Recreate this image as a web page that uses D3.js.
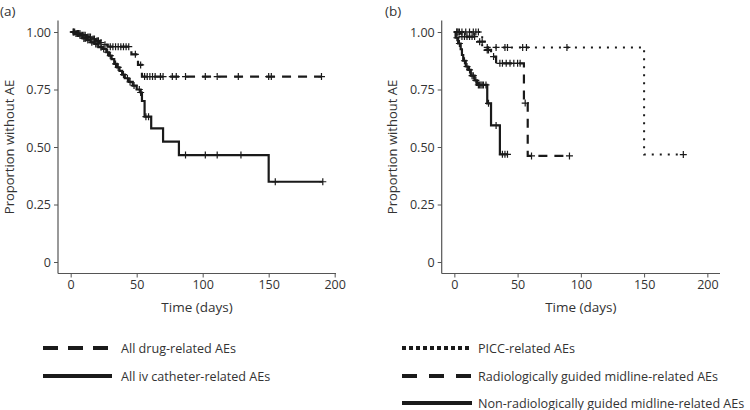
<!DOCTYPE html>
<html>
<head>
<meta charset="utf-8">
<script src="https://cdn.jsdelivr.net/npm/d3@7"></script>
<style>
  html, body { margin: 0; padding: 0; background: #fff; }
  svg { display: block; }
  text { font-family: "Open Sans", "Noto Sans", sans-serif; fill: #333; }
</style>
</head>
<body>
<svg id="chart" width="750" height="410"></svg>
<script>
// ---------- DATA ----------
const xTicks = [0, 50, 100, 150, 200];
const yTicks = [0, 0.25, 0.5, 0.75, 1.0];
const yTickLabels = ["0", "0.25", "0.50", "0.75", "1.00"];
const panelLabels = ["(a)", "(b)"];
const xTitle = "Time (days)";
const yTitle = "Proportion without AE";

// Panel (a): All drug-related AEs (dashed)
const drugEventTimes = [0, 4, 8, 12, 16, 19, 22, 25, 28, 46, 51, 54];
const drugSurvival   = [1.0, 0.993, 0.986, 0.978, 0.970, 0.962, 0.954, 0.945, 0.936, 0.903, 0.857, 0.806];
const drugCensor     = [2, 3, 5, 6, 7, 9, 10, 11, 13, 14, 15, 17, 18, 20, 21, 23, 26, 30, 32, 34, 36, 38, 40, 42, 44, 49, 53, 56, 58, 60, 62, 64, 68, 70, 77, 80, 87, 102, 111, 127, 150, 152, 190];

// Panel (a): All iv catheter-related AEs (solid)
const ivEventTimes = [0, 3, 6, 9, 12, 15, 18, 21, 24, 27, 29, 31, 33, 35, 37, 39, 41, 44, 47, 50, 53, 54, 56, 61, 70, 82, 150];
const ivSurvival   = [1.0, 0.993, 0.986, 0.972, 0.965, 0.955, 0.948, 0.934, 0.926, 0.912, 0.897, 0.882, 0.861, 0.846, 0.831, 0.815, 0.799, 0.783, 0.767, 0.750, 0.737, 0.700, 0.632, 0.581, 0.523, 0.465, 0.349];
const ivCensor     = [2, 4, 5, 7, 8, 10, 11, 13, 16, 19, 20, 23, 25, 28, 30, 34, 36, 40, 43, 45, 48, 52, 53, 57, 59, 87, 102, 111, 129, 155, 191];

// Panel (b): PICC-related AEs (dotted)
const piccEventTimes = [0, 22, 150];
const piccSurvival   = [1.0, 0.933, 0.467];
const piccCensor     = [2, 4, 6, 9, 12, 15, 17, 19, 26, 33, 40, 42, 54, 57, 89, 181];

// Panel (b): Radiologically guided midline-related AEs (dashed)
const radEventTimes = [0, 5, 18, 24, 29, 33, 55, 58];
const radSurvival   = [1.0, 0.980, 0.958, 0.922, 0.893, 0.864, 0.691, 0.461];
const radCensor     = [2, 3, 6, 8, 10, 12, 14, 16, 20, 22, 26, 27, 31, 36, 38, 41, 44, 47, 50, 52, 56, 61, 91];

// Panel (b): Non-radiologically guided midline-related AEs (solid)
const nonRadEventTimes = [0, 1, 3, 5, 6, 7, 9, 11, 13, 16, 18, 26, 29, 36];
const nonRadSurvival   = [1.0, 0.975, 0.950, 0.925, 0.900, 0.875, 0.850, 0.835, 0.810, 0.790, 0.770, 0.690, 0.594, 0.468];
const nonRadCensor     = [2, 4, 8, 10, 12, 14, 15, 17, 19, 20, 21, 22, 23, 25, 27, 33, 38, 40, 42];

const legendA = ["All drug-related AEs", "All iv catheter-related AEs"];
const legendB = ["PICC-related AEs", "Radiologically guided midline-related AEs", "Non-radiologically guided midline-related AEs"];

// ---------- DRAWING ----------
const svg = d3.select("#chart");
const INK = "#1a1a1a";
const AXIS = "#555";

const panels = [
  {
    label: panelLabels[0], labelX: 0,
    xDomain: [-9.6, 201], xRange: [58, 336],
    titleX: 10,
    series: [
      {t: drugEventTimes, s: drugSurvival, c: drugCensor, dash: "9,7", width: 2.2},
      {t: ivEventTimes, s: ivSurvival, c: ivCensor, dash: null, width: 2.2}
    ],
    legend: {x0: 43, x1: 112, tx: 121, ys: [348, 376],
      items: [{text: legendA[0], dash: "15,10", width: 4}, {text: legendA[1], dash: null, width: 4}]}
  },
  {
    label: panelLabels[1], labelX: 385,
    xDomain: [-10, 210], xRange: [441.7, 720],
    titleX: 393,
    series: [
      {t: piccEventTimes, s: piccSurvival, c: piccCensor, dash: "2,6", width: 2},
      {t: radEventTimes, s: radSurvival, c: radCensor, dash: "9,7", width: 2.2},
      {t: nonRadEventTimes, s: nonRadSurvival, c: nonRadCensor, dash: null, width: 2.2}
    ],
    legend: {x0: 402, x1: 472, tx: 478, ys: [348, 376, 403],
      items: [{text: legendB[0], dash: "4,3", width: 4}, {text: legendB[1], dash: "15,12", width: 4}, {text: legendB[2], dash: null, width: 4}]}
  }
];

const y = d3.scaleLinear().domain([-0.05, 1.05]).range([273.5, 20.5]);

function stepValue(times, surv, t) {
  let v = surv[0];
  for (let i = 0; i < times.length; i++) { if (times[i] <= t) v = surv[i]; }
  return v;
}

panels.forEach(p => {
  const x = d3.scaleLinear().domain(p.xDomain).range(p.xRange);
  const g = svg.append("g");

  // axes
  const yAxis = d3.axisLeft(y).tickValues(yTicks).tickFormat((d, i) => yTickLabels[i]).tickSize(4).tickPadding(3);
  const xAxis = d3.axisBottom(x).tickValues(xTicks).tickSize(4).tickPadding(3);
  const ya = g.append("g").attr("transform", `translate(${p.xRange[0]},0)`).call(yAxis);
  const xa = g.append("g").attr("transform", `translate(0,${y.range()[0]})`).call(xAxis);
  [ya, xa].forEach(a => {
    a.select(".domain").attr("stroke", AXIS).attr("stroke-width", 1.2);
    a.selectAll(".tick line").attr("stroke", AXIS).attr("stroke-width", 1);
    a.selectAll(".tick text").attr("fill", "#444").style("font-size", "12.5px").style("font-family", '"Open Sans", sans-serif');
  });
  ya.select(".domain").attr("d", `M0,${y.range()[1]}V${y.range()[0]}`);
  xa.select(".domain").attr("d", `M${p.xRange[0]},0H${p.xRange[1]}`);

  // titles
  g.append("text").attr("x", d3.mean(p.xRange)).attr("y", 312)
    .attr("text-anchor", "middle").style("font-size", "13.5px").text(xTitle);
  g.append("text").attr("transform", `translate(${p.titleX + 4},${y(0.5)}) rotate(-90)`)
    .attr("text-anchor", "middle").style("font-size", "13px").text(yTitle);
  g.append("text").attr("x", p.labelX).attr("y", 16).style("font-size", "13.5px").text(p.label);

  // series
  p.series.forEach(sr => {
    const end = Math.max(d3.max(sr.c), d3.max(sr.t));
    const pts = sr.t.map((t, i) => [t, sr.s[i]]);
    pts.push([end, sr.s[sr.s.length - 1]]);
    const line = d3.line().x(d => x(d[0])).y(d => y(d[1])).curve(d3.curveStepAfter);
    g.append("path").datum(pts).attr("d", line)
      .attr("fill", "none").attr("stroke", INK).attr("stroke-width", sr.width)
      .attr("stroke-dasharray", sr.dash);
    g.append("g").selectAll("path").data(sr.c).join("path")
      .attr("d", t => {
        const cx = x(t), cy = y(stepValue(sr.t, sr.s, t));
        return `M${cx},${cy - 3.5}V${cy + 3.5}M${cx - 3.5},${cy}H${cx + 3.5}`;
      })
      .attr("stroke", INK).attr("stroke-width", 1.2).attr("fill", "none");
  });

  // legend
  p.legend.items.forEach((it, i) => {
    const ly = p.legend.ys[i];
    g.append("line").attr("x1", p.legend.x0).attr("x2", p.legend.x1)
      .attr("y1", ly).attr("y2", ly)
      .attr("stroke", INK).attr("stroke-width", it.width)
      .attr("stroke-dasharray", it.dash);
    g.append("text").attr("x", p.legend.tx).attr("y", ly + 4.5)
      .style("font-size", "12.6px").text(it.text);
  });
});
</script>
</body>
</html>
